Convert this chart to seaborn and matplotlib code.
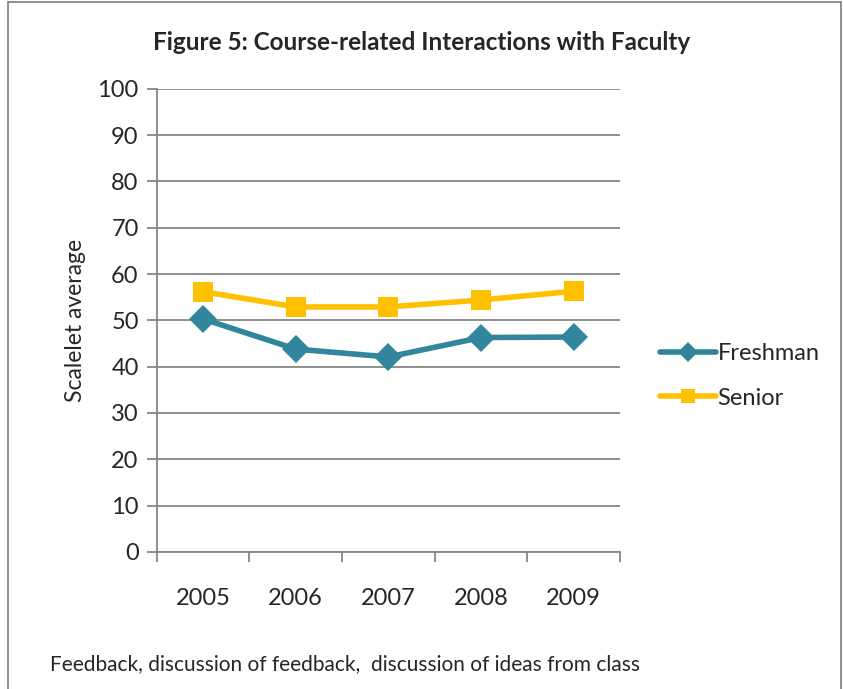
import pandas as pd
import matplotlib.pyplot as plt
import seaborn as sns
from matplotlib.patches import Rectangle
from matplotlib.ticker import FixedLocator

years = ["2005", "2006", "2007", "2008", "2009"]
freshman = [50.3, 43.8, 42.1, 46.3, 46.4]
senior = [56.2, 52.9, 52.9, 54.4, 56.3]

FRESH_COLOR = "#31859C"
SENIOR_COLOR = "#FFC000"

sns.set_theme(style="white")
plt.rcParams['font.family'] = ['Lato', 'DejaVu Sans']

df = pd.DataFrame({
    "year": years * 2,
    "value": freshman + senior,
    "group": ["Freshman"] * 5 + ["Senior"] * 5,
})

fig = plt.figure(figsize=(8.43, 6.89), dpi=100)
ax = fig.add_axes([0.186, 0.199, 0.5495, 0.672])

sns.lineplot(data=df, x="year", y="value", hue="group", style="group",
             palette={"Freshman": FRESH_COLOR, "Senior": SENIOR_COLOR},
             markers={"Freshman": "D", "Senior": "s"}, dashes=False,
             markersize=14, linewidth=4, markeredgewidth=0, ax=ax, sort=False)

ax.set_ylim(0, 100)
ax.set_xlim(-0.5, 4.5)
ax.set_yticks(range(0, 101, 10))
ax.yaxis.grid(True, color="#868686", linewidth=1.3)
ax.set_axisbelow(True)
for s in ["top", "right"]:
    ax.spines[s].set_visible(False)
for s in ["left", "bottom"]:
    ax.spines[s].set_color("#868686")
    ax.spines[s].set_linewidth(1.3)

ax.tick_params(axis="y", which="major", left=True, length=7, color="#868686",
               width=1.3, labelsize=17, pad=6)
ax.tick_params(axis="x", which="major", bottom=False, labelsize=17, pad=20)
ax.xaxis.set_minor_locator(FixedLocator([-0.5, 0.5, 1.5, 2.5, 3.5, 4.5]))
ax.tick_params(axis="x", which="minor", bottom=True, length=7, color="#868686", width=1.3)

ax.set_xlabel("")
ax.set_ylabel("Scalelet average", fontsize=16.5, labelpad=8)

handles, labels = ax.get_legend_handles_labels()
ax.legend(handles, labels, loc="center left", bbox_to_anchor=(1.04, 0.38),
          frameon=False, fontsize=17, handlelength=2.4, handletextpad=0.05,
          labelspacing=1.0, markerscale=0.75)

fig.text(0.5, 0.939, "Figure 5: Course-related Interactions with Faculty",
         ha="center", va="center", fontsize=17.5, fontweight="bold")
fig.text(0.059, 0.036, "Feedback, discussion of feedback,  discussion of ideas from class",
         ha="left", va="center", fontsize=15)

fig.patches.append(Rectangle((0.0095, -0.01), 0.988, 1.007, transform=fig.transFigure,
                             fill=False, edgecolor="#868686", linewidth=1.3))

fig.savefig("out.png", dpi=100)
